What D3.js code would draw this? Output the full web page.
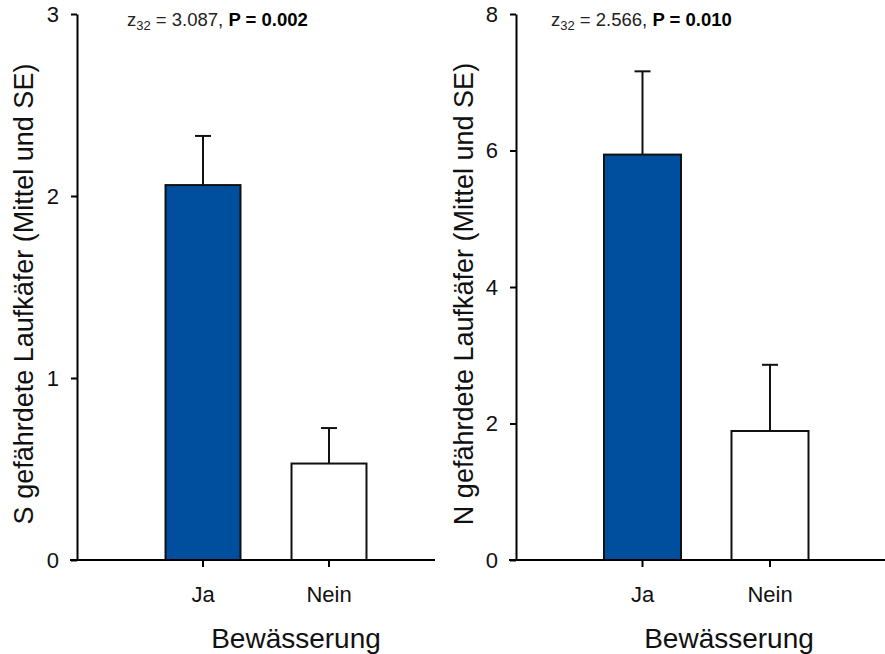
<!DOCTYPE html>
<html>
<head>
<meta charset="utf-8">
<script src="https://cdn.jsdelivr.net/npm/d3@7/dist/d3.min.js"></script>
<style>
  html, body { margin: 0; padding: 0; background: #fff; }
  svg { display: block; font-family: Arial, "Liberation Sans", sans-serif; }
</style>
</head>
<body>
<svg id="chart" width="885" height="654"></svg>
<script>
// Bewässerung groups
const categories = ["Ja", "Nein"];

// Species richness (S) of endangered ground beetles: mean and SE
const speciesMean = [2.06, 0.53];
const speciesSE = [0.27, 0.195];
const speciesTicks = [0, 1, 2, 3];

// Abundance (N) of endangered ground beetles: mean and SE
const abundMean = [5.94, 1.89];
const abundSE = [1.22, 0.97];
const abundTicks = [0, 2, 4, 6, 8];

const barColors = ["#004f9f", "#ffffff"];

const panels = [
  {
    mean: speciesMean, se: speciesSE, ticks: speciesTicks, yMax: 3,
    yLabel: "S gefährdete Laufkäfer (Mittel und SE)",
    stat: { z: "3.087", p: "0.002" },
    axisX: 77, lineX0: 70, lineX1: 435,
    bandRange: [140, 392], padIn: 0.405,
    yLabelX: 33, statX: 127, titleX: 296
  },
  {
    mean: abundMean, se: abundSE, ticks: abundTicks, yMax: 8,
    yLabel: "N gefährdete Laufkäfer (Mittel und SE)",
    stat: { z: "2.566", p: "0.010" },
    axisX: 516, lineX0: 509, lineX1: 885,
    bandRange: [578.75, 833.75], padIn: 0.396,
    yLabelX: 473, statX: 551, titleX: 729
  }
];

const svg = d3.select("#chart");
const yTop = 14, yBottom = 560;

panels.forEach(p => {
  const g = svg.append("g");

  const y = d3.scaleLinear().domain([0, p.yMax]).range([yBottom, yTop]);
  const x = d3.scaleBand()
    .domain(categories)
    .range(p.bandRange)
    .paddingInner(p.padIn)
    .paddingOuter(p.padIn / 2);

  const rows = categories.map((c, i) => ({ cat: c, mean: p.mean[i], se: p.se[i], color: barColors[i] }));

  // error bars (upper whisker only)
  const capHalf = 8;
  const eb = g.selectAll(".err").data(rows).enter().append("g").attr("class", "err")
    .attr("stroke", "#111").attr("stroke-width", 2);
  eb.append("line")
    .attr("x1", d => x(d.cat) + x.bandwidth() / 2)
    .attr("x2", d => x(d.cat) + x.bandwidth() / 2)
    .attr("y1", d => y(d.mean))
    .attr("y2", d => y(d.mean + d.se));
  eb.append("line")
    .attr("x1", d => x(d.cat) + x.bandwidth() / 2 - capHalf)
    .attr("x2", d => x(d.cat) + x.bandwidth() / 2 + capHalf)
    .attr("y1", d => y(d.mean + d.se))
    .attr("y2", d => y(d.mean + d.se));

  // bars
  g.selectAll(".bar").data(rows).enter().append("rect").attr("class", "bar")
    .attr("x", d => x(d.cat))
    .attr("width", x.bandwidth())
    .attr("y", d => y(d.mean))
    .attr("height", d => y(0) - y(d.mean))
    .attr("fill", d => d.color)
    .attr("stroke", "#111")
    .attr("stroke-width", 2);

  // y axis
  const yAxis = g.append("g")
    .attr("transform", `translate(${p.axisX},0)`)
    .call(d3.axisLeft(y).tickValues(p.ticks).tickFormat(d3.format("d"))
      .tickSize(6).tickSizeOuter(0).tickPadding(12));
  yAxis.select(".domain").attr("stroke", "#000").attr("stroke-width", 2);
  yAxis.selectAll(".tick line").attr("stroke", "#000").attr("stroke-width", 2);
  yAxis.selectAll(".tick text").attr("font-size", 22).attr("fill", "#111")
    .attr("font-family", "Arial, 'Liberation Sans', sans-serif");

  // x axis
  const xAxis = g.append("g")
    .attr("transform", `translate(0,${yBottom})`)
    .call(d3.axisBottom(x).tickSize(7).tickSizeOuter(0).tickPadding(19));
  xAxis.select(".domain").remove();
  xAxis.selectAll(".tick line").attr("stroke", "#000").attr("stroke-width", 2);
  xAxis.selectAll(".tick text").attr("font-size", 22).attr("fill", "#111")
    .attr("font-family", "Arial, 'Liberation Sans', sans-serif");
  g.append("line")
    .attr("x1", p.lineX0).attr("x2", p.lineX1)
    .attr("y1", yBottom).attr("y2", yBottom)
    .attr("stroke", "#000").attr("stroke-width", 2);

  // axis titles
  g.append("text")
    .attr("transform", `translate(${p.yLabelX},${(yTop + yBottom) / 2 + 7}) rotate(-90)`)
    .attr("text-anchor", "middle")
    .attr("font-size", 27)
    .attr("fill", "#111")
    .text(p.yLabel);

  g.append("text")
    .attr("x", p.titleX).attr("y", 648)
    .attr("text-anchor", "middle")
    .attr("font-size", 28)
    .attr("fill", "#111")
    .text("Bewässerung");

  // test statistic
  const st = g.append("text")
    .attr("x", p.statX).attr("y", 26)
    .attr("font-size", 18.5)
    .attr("fill", "#222");
  st.append("tspan").text("z");
  st.append("tspan").attr("font-size", 13).attr("dy", 4).text("32");
  st.append("tspan").attr("dy", -4).text(` = ${p.stat.z}, `);
  st.append("tspan").attr("font-weight", "bold").attr("fill", "#000").text(`P = ${p.stat.p}`);
});
</script>
</body>
</html>
